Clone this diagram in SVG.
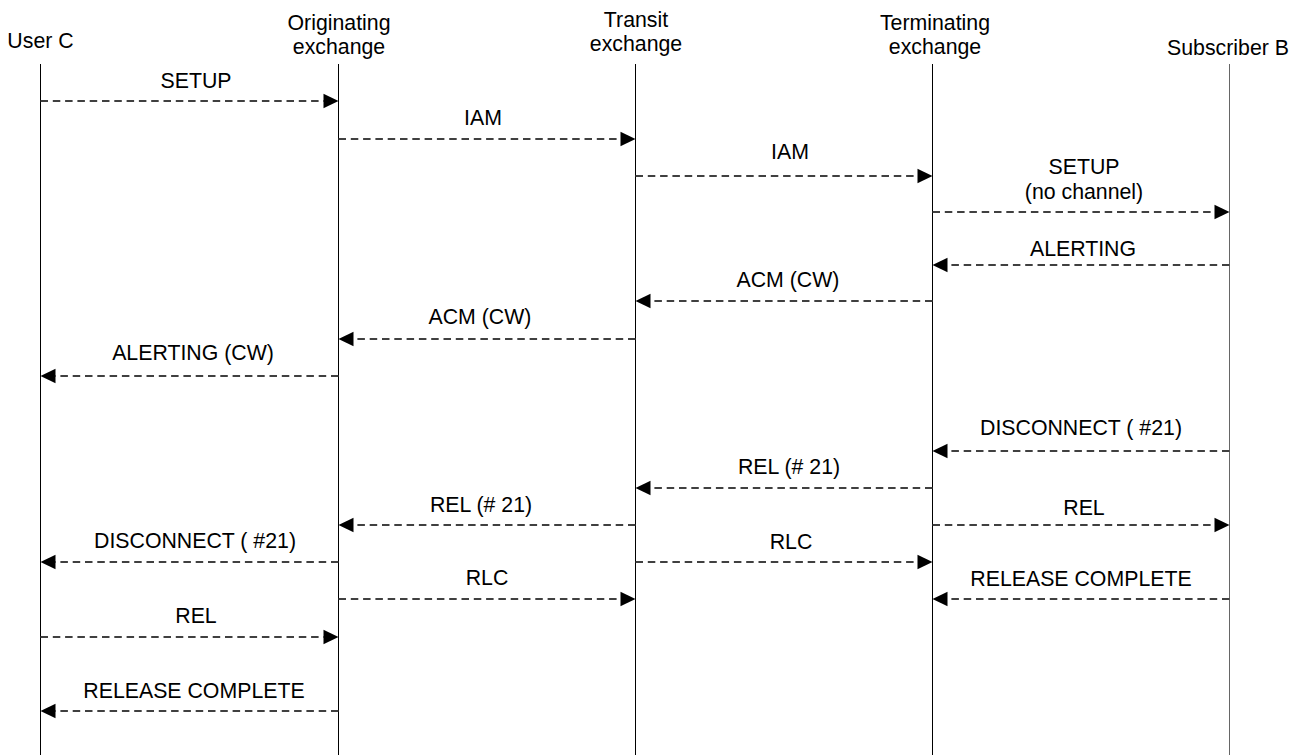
<svg xmlns="http://www.w3.org/2000/svg" width="1306" height="755" viewBox="0 0 1306 755">
<style>
text{font-family:"Liberation Sans",Arial,sans-serif;font-size:21.3px;fill:#000;text-anchor:middle}
.life{stroke:#000;stroke-width:1;fill:none}
.msg{stroke:#404040;stroke-width:2.2;stroke-dasharray:7.5 4.8;fill:none;marker-end:url(#ah)}
</style>
<defs>
<marker id="ah" markerUnits="userSpaceOnUse" markerWidth="16" markerHeight="16" refX="3" refY="7.3" orient="auto" overflow="visible">
<path d="M0,0 L15,7.3 L0,14.6 Z" fill="#000"/>
</marker>
</defs>
<rect width="1306" height="755" fill="#fff"/>
<g id="userC">
<text x="40.5" y="48">User C</text>
<line class="life" x1="40.5" y1="64" x2="40.5" y2="755"/>
</g>
<g id="originating">
<text x="339" y="29.5">Originating</text>
<text x="339" y="54">exchange</text>
<line class="life" x1="338.5" y1="64" x2="338.5" y2="755"/>
</g>
<g id="transit">
<text x="636" y="26.5">Transit</text>
<text x="636" y="51">exchange</text>
<line class="life" x1="635.5" y1="64" x2="635.5" y2="755"/>
</g>
<g id="terminating">
<text x="935" y="29.5">Terminating</text>
<text x="935" y="54">exchange</text>
<line class="life" x1="932.5" y1="64" x2="932.5" y2="755"/>
</g>
<g id="subscriberB">
<text x="1228" y="55">Subscriber B</text>
<line class="life" x1="1229.5" y1="64" x2="1229.5" y2="755" style="stroke:#666"/>
</g>
<g id="connectors">
<line class="msg" x1="40.5" y1="101" x2="326.5" y2="101"/>
<text x="196" y="88">SETUP</text>
<line class="msg" x1="338.5" y1="139" x2="623.5" y2="139"/>
<text x="483" y="125">IAM</text>
<line class="msg" x1="635.5" y1="176" x2="920.5" y2="176"/>
<text x="790" y="159">IAM</text>
<line class="msg" x1="932.5" y1="212" x2="1217.5" y2="212"/>
<text x="1084" y="174">SETUP</text>
<text x="1084" y="198.5">(no channel)</text>
<line class="msg" x1="1229.5" y1="265" x2="944.5" y2="265"/>
<text x="1083" y="255.5">ALERTING</text>
<line class="msg" x1="932.5" y1="301" x2="647.5" y2="301"/>
<text x="788" y="287">ACM (CW)</text>
<line class="msg" x1="635.5" y1="339" x2="350.5" y2="339"/>
<text x="480" y="324">ACM (CW)</text>
<line class="msg" x1="338.5" y1="376" x2="52.5" y2="376"/>
<text x="193" y="359.5">ALERTING (CW)</text>
<line class="msg" x1="1229.5" y1="451" x2="944.5" y2="451"/>
<text x="1081" y="434.5">DISCONNECT ( #21)</text>
<line class="msg" x1="932.5" y1="488" x2="647.5" y2="488"/>
<text x="789" y="474">REL (# 21)</text>
<line class="msg" x1="635.5" y1="525" x2="350.5" y2="525"/>
<text x="481" y="511.5">REL (# 21)</text>
<line class="msg" x1="932.5" y1="525" x2="1217.5" y2="525"/>
<text x="1084" y="515">REL</text>
<line class="msg" x1="338.5" y1="562" x2="52.5" y2="562"/>
<text x="195" y="547.5">DISCONNECT ( #21)</text>
<line class="msg" x1="635.5" y1="562" x2="920.5" y2="562"/>
<text x="791" y="549">RLC</text>
<line class="msg" x1="338.5" y1="599" x2="623.5" y2="599"/>
<text x="487" y="585">RLC</text>
<line class="msg" x1="1229.5" y1="599" x2="944.5" y2="599"/>
<text x="1081" y="585.5">RELEASE COMPLETE</text>
<line class="msg" x1="40.5" y1="637" x2="326.5" y2="637"/>
<text x="196" y="623">REL</text>
<line class="msg" x1="338.5" y1="711" x2="52.5" y2="711"/>
<text x="194" y="698">RELEASE COMPLETE</text>
</g>
</svg>
